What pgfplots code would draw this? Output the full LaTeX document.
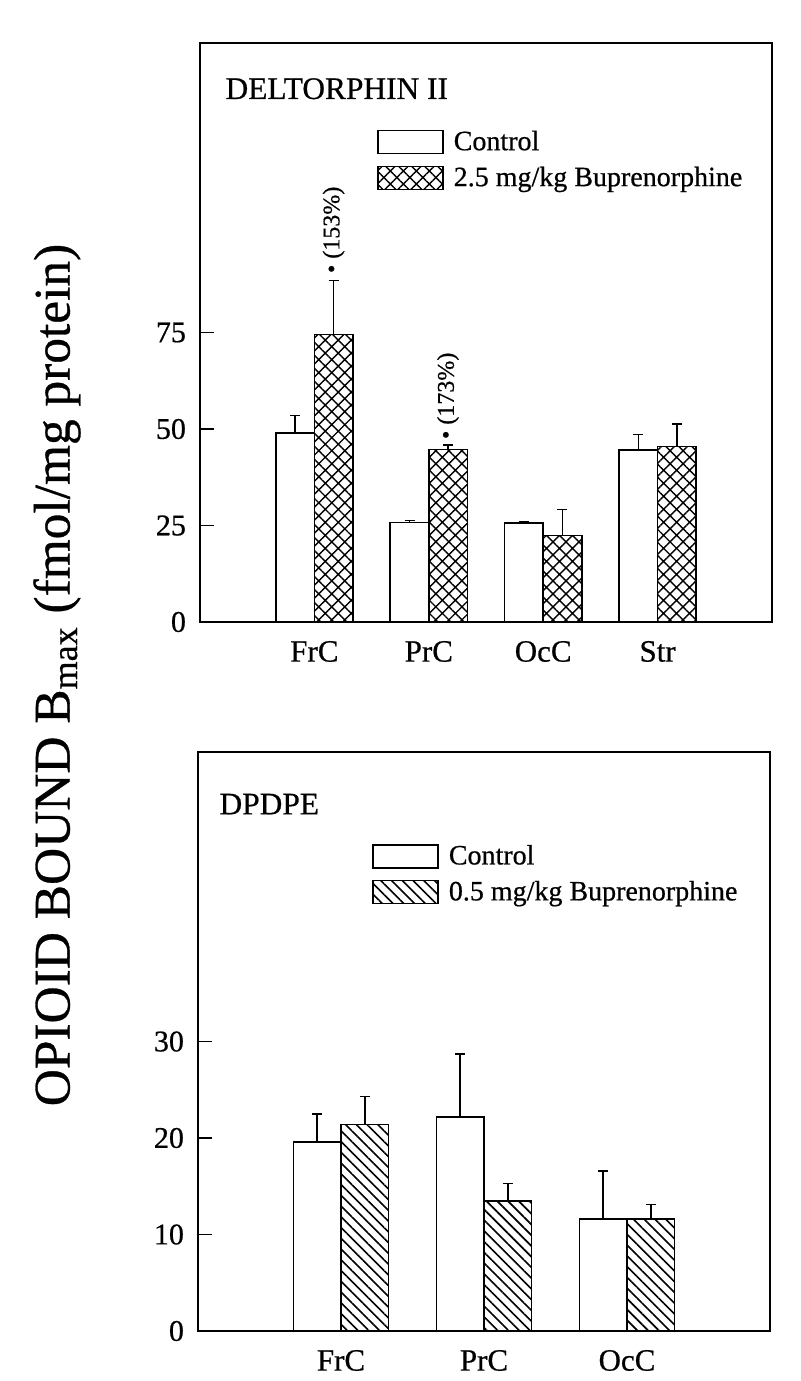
\documentclass[border=0pt]{standalone}
\usepackage{fontspec}
\setmainfont{Liberation Serif}[FakeBold=0.6]
\usepackage{pgfplots}
\usepackage{pgfplotstable}
\pgfplotsset{compat=1.18}
\usetikzlibrary{patterns.meta}

\pgfplotstableread{
x ctrl ctrlerr bup buperr
1 49.0 4.5 74.5 14.0
2 25.8 0.5 44.7 1.2
3 25.6 0.3 22.4 6.7
4 44.5 4.1 45.5 5.8
}\deltdata

\pgfplotstableread{
x ctrl ctrlerr bup buperr
1 19.6 2.9 21.4 2.9
2 22.2 6.5 13.5 1.8
3 11.6 5.0 11.6 1.5
}\dpdpedata

\pgfplotsset{
  ybar legend/.style={legend image code/.code={\draw[##1,line width=0.8pt,draw=black] (0pt,-5.75pt) rectangle (32.5pt,5.75pt);}},
  panel/.style={
    scale only axis, width=286pt, height=289.5pt,
    axis line style={line width=1pt},
    ybar=0pt,
    ymin=0,
    ytick pos=left, tick align=inside, major tick length=7pt,
    y tick style={line width=0.8pt, black},
    x tick style={draw=none},
    xtick pos=bottom,
    /pgf/number format/assume math mode=true,
    yticklabel style={font=\fontsize{15}{17}\selectfont, xshift=-3.5pt},
    xticklabel style={font=\fontsize{15.5}{18}\selectfont, yshift=-6pt},
    legend cell align=left,
    legend style={draw=none, fill=none, inner sep=0pt, font=\fontsize{14}{16}\selectfont, row sep=2.75pt, column sep=3pt},
    error bars/y dir=plus, error bars/y explicit,
    error bars/error bar style={line width=0.8pt, black},
    error bars/error mark options={rotate=90, mark size=2.5pt, line width=0.8pt, black},
  }
}

\begin{document}
\begin{tikzpicture}
\path[use as bounding box] (0pt,0pt) rectangle (400pt,-690.5pt);

\node[rotate=90, font=\fontsize{25.7}{30}\selectfont] at (28.5pt,-337.5pt) {OPIOID BOUND B\textsubscript{max} (fmol/mg protein)};

\begin{axis}[panel,
  at={(100pt,-311pt)}, anchor=south west,
  xmin=0, xmax=5, ymax=150,
  bar width=0.337,
  xtick={1,2,3,4}, xticklabels={FrC,PrC,OcC,Str},
  ytick={0,25,50,75},
  legend style={at={(0.309,0.856)}, anchor=north west},
]
\addplot[draw=black, line width=0.8pt, fill=white] table[x=x, y=ctrl, y error=ctrlerr] {\deltdata};
\addplot[draw=black, line width=0.8pt, pattern={Hatch[angle=45,distance=4.6pt,line width=0.7pt]}, pattern color=black] table[x=x, y=bup, y error=buperr] {\deltdata};
\legend{Control, 2.5 mg/kg Buprenorphine}
\node[anchor=west, inner sep=0pt, font=\fontsize{15.7}{18}\selectfont] at (rel axis cs:0.044,0.921) {DELTORPHIN II};
\node[rotate=90, anchor=west, inner sep=0pt, font=\fontsize{12}{14}\selectfont] at (axis cs:1.168,90.3) {• (153\%)};
\node[rotate=90, anchor=west, inner sep=0pt, font=\fontsize{12}{14}\selectfont] at (axis cs:2.168,47.3) {• (173\%)};
\end{axis}

\begin{axis}[panel,
  at={(99pt,-665.5pt)}, anchor=south west,
  xmin=0, xmax=4, ymax=60,
  bar width=0.333,
  xtick={1,2,3}, xticklabels={FrC,PrC,OcC},
  ytick={0,10,20,30},
  legend style={at={(0.304,0.847)}, anchor=north west},
]
\addplot[draw=black, line width=0.8pt, fill=white] table[x=x, y=ctrl, y error=ctrlerr] {\dpdpedata};
\addplot[draw=black, line width=0.8pt, pattern={Lines[angle=-45,distance=3.8pt,line width=0.8pt]}, pattern color=black] table[x=x, y=bup, y error=buperr] {\dpdpedata};
\legend{Control, 0.5 mg/kg Buprenorphine}
\node[anchor=west, inner sep=0pt, font=\fontsize{15.7}{18}\selectfont] at (rel axis cs:0.037,0.91) {DPDPE};
\end{axis}
\end{tikzpicture}
\end{document}
